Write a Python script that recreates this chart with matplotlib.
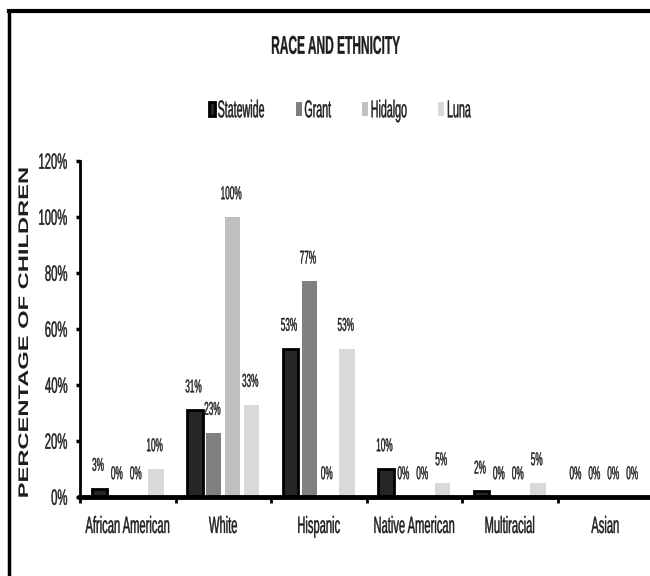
import matplotlib
matplotlib.use("Agg")
import matplotlib.pyplot as plt
from matplotlib.lines import Line2D
from matplotlib.patches import Patch
from matplotlib.patheffects import AbstractPathEffect
from matplotlib.transforms import Affine2D
import numpy as np

categories = ["African American", "White", "Hispanic", "Native American", "Multiracial", "Asian"]
series = ["Statewide", "Grant", "Hidalgo", "Luna"]
statewide = [3, 31, 53, 10, 2, 0]
grant = [0, 23, 77, 0, 0, 0]
hidalgo = [0, 100, 0, 0, 0, 0]
luna = [10, 33, 53, 5, 5, 0]
yticks = [0, 20, 40, 60, 80, 100, 120]
title = "RACE AND ETHNICITY"
ylabel = "PERCENTAGE OF CHILDREN"

values = [statewide, grant, hidalgo, luna]
colors = ["#262626", "#808080", "#c0c0c0", "#d9d9d9"]
edges = ["#000000", "#808080", "#c0c0c0", "#d9d9d9"]
lws = [2.0, 0, 0, 0]

FONT = ["Liberation Sans", "DejaVu Sans"]
TXT = "#1e1e1e"
CAP = 0.70  # cap height in em


class Stretch(AbstractPathEffect):
    """Draw text stretched (tall, narrow look of the original chart)."""

    def __init__(self, sx=1.0, sy=1.0, stroke=0.3):
        super().__init__()
        self.sx, self.sy, self.stroke = sx, sy, stroke

    def draw_path(self, renderer, gc, tpath, affine, rgbFace=None):
        ext = tpath.get_extents()
        cx = 0.5 * (ext.x0 + ext.x1)
        cy = 50 * CAP
        t = (Affine2D().translate(-cx, -cy).scale(self.sx, self.sy)
             .translate(cx, cy) + affine)
        if self.stroke > 0 and rgbFace is not None:
            gc0 = renderer.new_gc()
            gc0.copy_properties(gc)
            gc0.set_linewidth(self.stroke)
            gc0.set_foreground(rgbFace)
            renderer.draw_path(gc0, tpath, t, rgbFace)
            gc0.restore()
        else:
            renderer.draw_path(gc, tpath, t, rgbFace)


W, H = 650, 576
fig = plt.figure(figsize=(W / 100, H / 100), dpi=100)
renderer = fig.canvas.get_renderer()


def fit(text, target_w, target_cap, weight="normal", base=10.0):
    t = fig.text(0, 0, text, family=FONT, fontsize=base, fontweight=weight)
    w = t.get_window_extent(renderer).width
    t.remove()
    size = base * target_w / w
    sy = target_cap / (CAP * size * 100 / 72)
    return size, sy


fs_cat, sy_cat = fit("African American", 85, 16.5)
fs_tick, sy_tick = fit("120%", 29, 15.5)
fs_val, sy_val = fit("100%", 21, 13)
fs_leg, sy_leg = fit("Statewide", 47, 17)
fs_title, sy_title = fit(title, 128, 18, weight="bold")

ax = fig.add_axes([80 / W, 1 - 497 / H, 573 / W, (497 - 161) / H])

x = np.arange(len(categories)) + 0.5
bw = 0.16
step = 0.198
cap_val_pt = CAP * fs_val
for i, (vals, c, ec, lw) in enumerate(zip(values, colors, edges, lws)):
    pos = x + (i - 1.5) * step
    ax.bar(pos, vals, bw, color=c, edgecolor=ec, linewidth=lw, zorder=2, label=series[i])
    for px, v in zip(pos, vals):
        ax.annotate(f"{v}%", (px, v), xytext=(-1, 17.5 - cap_val_pt / 2),
                    textcoords="offset points", ha="center", va="baseline",
                    fontsize=fs_val, family=FONT, color=TXT,
                    path_effects=[Stretch(sy=sy_val, stroke=0.25)])

ax.set_xlim(0, len(categories))
ax.set_ylim(0, 120)
ax.set_yticks(yticks)
ax.set_yticklabels([f"{t}%" for t in yticks], family=FONT, fontsize=fs_tick, color=TXT)
for t in ax.get_yticklabels():
    t.set_path_effects([Stretch(sy=sy_tick)])
ax.set_xticks(np.arange(len(categories) + 1))
ax.set_xticklabels([])
ax.set_xticks(x, minor=True)
ax.set_xticklabels(categories, minor=True, family=FONT, fontsize=fs_cat, color=TXT)
for t in ax.get_xticklabels(minor=True):
    t.set_path_effects([Stretch(sy=sy_cat)])
ax.tick_params(axis="x", which="major", length=4.5, width=2, direction="out", color="black")
ax.tick_params(axis="x", which="minor", length=0, pad=17)
ax.tick_params(axis="y", length=3, width=2.5, direction="out", pad=6, color="black")

for s in ["top", "right"]:
    ax.spines[s].set_visible(False)
ax.spines["left"].set_linewidth(2)
ax.spines["bottom"].set_linewidth(3.5)
ax.spines["bottom"].set_zorder(3)

# y-axis title
yl_size = 10
t = fig.text(0, 0, ylabel, family=FONT, fontsize=yl_size, fontweight="bold")
yl_w = t.get_window_extent(renderer).width
t.remove()
fig.text(24 / W, 1 - 333 / H, ylabel, rotation=90, ha="center", va="center",
         fontsize=yl_size, fontweight="bold", family=FONT, color=TXT,
         path_effects=[Stretch(sx=330 / yl_w, stroke=0)])

fig.text(335 / W, 1 - 46 / H, title, ha="center", va="center",
         fontsize=fs_title, fontweight="bold", family=FONT, color=TXT,
         path_effects=[Stretch(sy=sy_title, stroke=0.2)])

handles = [Patch(facecolor=c, edgecolor=ec, linewidth=lw) for c, ec, lw in zip(colors, edges, lws)]
leg = fig.legend(handles, series, loc="center", bbox_to_anchor=(340 / W, 1 - 109 / H), ncol=4,
                 frameon=False, handlelength=0.55, handleheight=1.6, handletextpad=0.25,
                 columnspacing=2.9, borderpad=0, prop={"family": FONT, "size": fs_leg})
for t in leg.get_texts():
    t.set_color(TXT)
    t.set_path_effects([Stretch(sy=sy_leg)])

fig.add_artist(Line2D([8.5 / W, 8.5 / W], [0, 1 - 11 / H], color="black", lw=2.5,
                      transform=fig.transFigure))
fig.add_artist(Line2D([8.5 / W, 1], [1 - 11 / H, 1 - 11 / H], color="black", lw=3,
                      transform=fig.transFigure))

fig.savefig("out.png", dpi=100)
